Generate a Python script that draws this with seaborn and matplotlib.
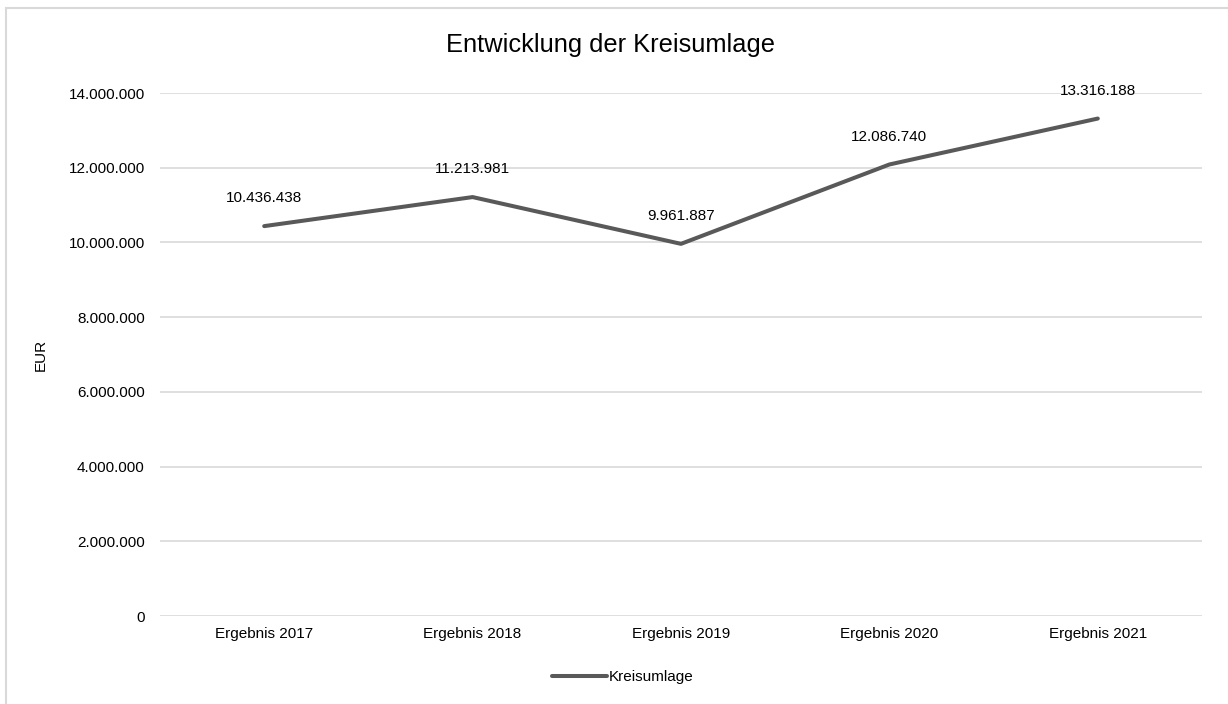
import matplotlib
matplotlib.use("Agg")
import matplotlib.pyplot as plt
import matplotlib.ticker as mticker
from matplotlib.patches import Rectangle
import seaborn as sns
import pandas as pd

# data
jahre = ["Ergebnis 2017", "Ergebnis 2018", "Ergebnis 2019", "Ergebnis 2020", "Ergebnis 2021"]
kreisumlage = [10436438, 11213981, 9961887, 12086740, 13316188]
y_ticks = [0, 2000000, 4000000, 6000000, 8000000, 10000000, 12000000, 14000000]

df = pd.DataFrame({"Jahr": jahre, "Kreisumlage": kreisumlage})

sns.set_theme(style="white")
plt.rcParams['font.family'] = ['Liberation Sans', 'DejaVu Sans']
plt.rcParams['text.color'] = "#000000"

fig = plt.figure(figsize=(12.28, 7.04), dpi=100)
ax = fig.add_axes([160/1228, 1-616/704, (1202-160)/1228, (616-93)/704])

def de_fmt(v):
    return f"{int(round(v)):,}".replace(",", ".")

sns.lineplot(data=df, x="Jahr", y="Kreisumlage", ax=ax, color="#595959",
             linewidth=2.9, sort=False, label="Kreisumlage",
             solid_capstyle="round", solid_joinstyle="round")

for i, v in enumerate(kreisumlage):
    ax.annotate(de_fmt(v), (i, v), xytext=(0, 20), textcoords="offset points",
                ha="center", va="center", fontsize=11, color="#000000")

ax.set_xlim(-0.5, len(jahre) - 0.5)
ax.set_ylim(0, 14000000)
ax.set_yticks(y_ticks)
ax.yaxis.set_major_formatter(mticker.FuncFormatter(lambda v, p: de_fmt(v)))
ax.grid(axis="y", color="#d9d9d9", linewidth=1.2)
ax.set_axisbelow(True)
for s in ax.spines.values():
    s.set_visible(False)
ax.tick_params(axis="both", length=0, labelsize=11, colors="#000000")
ax.tick_params(axis="y", pad=11)
ax.tick_params(axis="x", pad=8)
ax.set_xlabel("")
ax.set_ylabel("EUR", fontsize=11, labelpad=15, color="#000000")

fig.text(611/1228, 1-45/704, "Entwicklung der Kreisumlage", fontsize=18.3,
         ha="center", va="center", color="#000000")

ax.get_legend().remove()
fig.legend(loc="center", bbox_to_anchor=(623/1228, 1-677/704), frameon=False,
           fontsize=11, handlelength=3.6, handletextpad=0.1, labelcolor="#000000")

# outer chart frame
fig.patches.append(Rectangle((6/1228, -0.05), 1.05, 1.05 - 8/704,
                             transform=fig.transFigure, fill=False,
                             edgecolor="#d9d9d9", linewidth=1.5))

fig.savefig("out.png", dpi=100)
